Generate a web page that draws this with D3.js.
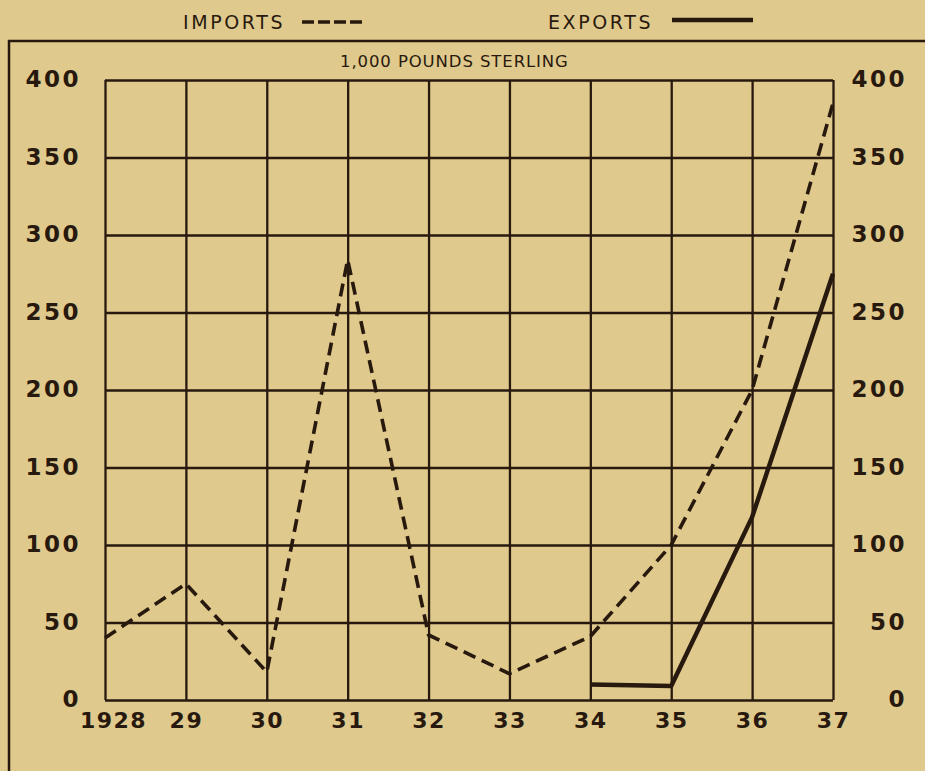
<!DOCTYPE html>
<html>
<head>
<meta charset="utf-8">
<script src="https://cdn.jsdelivr.net/npm/d3@7"></script>
<style>
  html, body { margin: 0; padding: 0; background: #e0c98c; }
  svg { display: block; }
</style>
</head>
<body>
<svg id="chart" width="925" height="771"></svg>
<script>
// ---- data ----
const years = [1928, 1929, 1930, 1931, 1932, 1933, 1934, 1935, 1936, 1937];
const yearLabels = ["1928", "29", "30", "31", "32", "33", "34", "35", "36", "37"];
const imports = [40, 75, 18, 284, 42, 17, 41, 100, 200, 385];
const exportYears = [1934, 1935, 1936, 1937];
const exports = [10, 9, 118, 275];
const yTicks = [0, 50, 100, 150, 200, 250, 300, 350, 400];
const unitLabel = "1,000 POUNDS STERLING";
const legendLabels = ["IMPORTS", "EXPORTS"];

// ---- layout ----
const ink = "#28190f";
const bg = "#e0c98c";
const margin = { left: 105, right: 92, top: 80, bottom: 71 };
const W = 925, H = 771;
const iw = W - margin.left - margin.right;
const ih = H - margin.top - margin.bottom;

const svg = d3.select("#chart");
svg.append("rect").attr("width", W).attr("height", H).attr("fill", bg);

// outer frame (left and top)
svg.append("path")
  .attr("d", `M9,${H} L9,41 L${W},41`)
  .attr("fill", "none").attr("stroke", ink).attr("stroke-width", 2.5);

const x = d3.scaleLinear().domain([years[0], years[years.length - 1]]).range([0, iw]);
const y = d3.scaleLinear().domain([0, 400]).range([ih, 0]);

const g = svg.append("g").attr("transform", `translate(${margin.left},${margin.top})`);

// grid
const gridY = g.append("g").call(d3.axisLeft(y).tickValues(yTicks).tickSize(-iw).tickFormat(""));
gridY.select(".domain").remove();
gridY.selectAll("line").attr("stroke", ink).attr("stroke-width", 2.3);
const gridX = g.append("g").attr("transform", `translate(0,${ih})`)
  .call(d3.axisBottom(x).tickValues(years).tickSize(-ih).tickFormat(""));
gridX.select(".domain").remove();
gridX.selectAll("line").attr("stroke", ink).attr("stroke-width", 2.3);

const numFont = "'DejaVu Sans', sans-serif";

// left axis labels
const axL = g.append("g").call(d3.axisLeft(y).tickValues(yTicks).tickSize(0).tickPadding(24));
axL.select(".domain").remove();
axL.selectAll("text")
  .attr("font-family", numFont).attr("font-weight", "bold").attr("font-size", 23)
  .attr("letter-spacing", 2.5).attr("fill", ink).attr("dy", "0.3em");

// right axis labels
const axR = g.append("g").attr("transform", `translate(${iw},0)`)
  .call(d3.axisRight(y).tickValues(yTicks).tickSize(0).tickPadding(0));
axR.select(".domain").remove();
axR.selectAll("text")
  .attr("text-anchor", "end").attr("x", 74)
  .attr("font-family", numFont).attr("font-weight", "bold").attr("font-size", 23)
  .attr("letter-spacing", 2.5).attr("fill", ink).attr("dy", "0.3em");

// bottom labels
const axB = g.append("g").attr("transform", `translate(0,${ih})`)
  .call(d3.axisBottom(x).tickValues(years).tickSize(0).tickPadding(12)
    .tickFormat((d, i) => yearLabels[i]));
axB.select(".domain").remove();
axB.selectAll("text")
  .attr("font-family", numFont).attr("font-weight", "bold").attr("font-size", 22)
  .attr("letter-spacing", 1.5).attr("fill", ink)
  .attr("dx", (d, i) => i === 0 ? 8 : 0);

// lines
const line = d3.line().x(d => x(d[0])).y(d => y(d[1]));
g.append("path")
  .datum(years.map((yr, i) => [yr, imports[i]]))
  .attr("d", line).attr("fill", "none").attr("stroke", ink)
  .attr("stroke-width", 3.6).attr("stroke-dasharray", "13,7")
  .attr("stroke-linejoin", "miter");
g.append("path")
  .datum(exportYears.map((yr, i) => [yr, exports[i]]))
  .attr("d", line).attr("fill", "none").attr("stroke", ink)
  .attr("stroke-width", 4.5).attr("stroke-linejoin", "round");

// unit label
svg.append("text").attr("x", 340).attr("y", 67).attr("text-anchor", "start")
  .attr("font-family", "'DejaVu Sans', sans-serif")
  .attr("font-size", 16.5).attr("letter-spacing", 0.9).attr("fill", ink).text(unitLabel);

// legend
const legFont = "'DejaVu Sans', sans-serif";
svg.append("text").attr("x", 183).attr("y", 29).attr("text-anchor", "start")
  .attr("font-family", legFont).attr("font-size", 19).attr("letter-spacing", 2.6)
  .attr("fill", ink).text(legendLabels[0]);
svg.append("line").attr("x1", 302).attr("x2", 362).attr("y1", 22).attr("y2", 22)
  .attr("stroke", ink).attr("stroke-width", 3.5).attr("stroke-dasharray", "12,4");
svg.append("text").attr("x", 548).attr("y", 29).attr("text-anchor", "start")
  .attr("font-family", legFont).attr("font-size", 19).attr("letter-spacing", 2.6)
  .attr("fill", ink).text(legendLabels[1]);
svg.append("line").attr("x1", 672).attr("x2", 753).attr("y1", 20).attr("y2", 20)
  .attr("stroke", ink).attr("stroke-width", 4.5);
</script>
</body>
</html>
